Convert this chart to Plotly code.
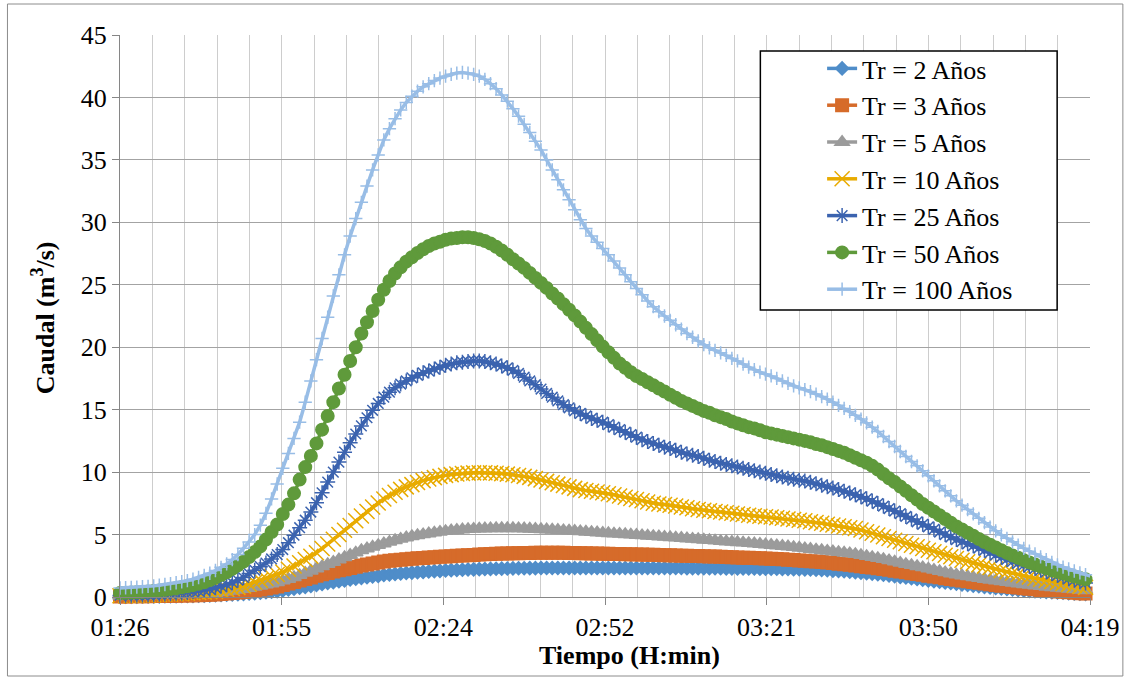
import pandas as pd
import plotly.graph_objects as go

# ---------------- data ----------------
start_time = "2000-01-01 01:26:24"
n_points = 174  # one reading per minute

series_names = ["Tr = 2 Años", "Tr = 3 Años", "Tr = 5 Años", "Tr = 10 Años",
                "Tr = 25 Años", "Tr = 50 Años", "Tr = 100 Años"]

q_tr2 = [0.02,0.02,0.03,0.03,0.04,0.04,0.05,0.05,0.06,0.06,
         0.07,0.08,0.08,0.09,0.10,0.11,0.12,0.14,0.16,0.18,
         0.20,0.22,0.24,0.28,0.31,0.35,0.39,0.43,0.47,0.53,
         0.60,0.67,0.74,0.81,0.88,0.96,1.04,1.12,1.19,1.26,
         1.33,1.41,1.47,1.53,1.59,1.64,1.69,1.76,1.80,1.84,
         1.88,1.92,1.95,1.99,2.01,2.04,2.07,2.09,2.12,2.15,
         2.16,2.18,2.20,2.21,2.23,2.24,2.25,2.26,2.27,2.28,
         2.29,2.30,2.30,2.31,2.31,2.32,2.32,2.32,2.32,2.32,
         2.32,2.32,2.32,2.32,2.32,2.32,2.32,2.32,2.32,2.32,
         2.32,2.32,2.32,2.32,2.32,2.32,2.32,2.32,2.32,2.32,
         2.32,2.31,2.31,2.31,2.30,2.30,2.30,2.30,2.29,2.29,
         2.29,2.28,2.28,2.28,2.27,2.27,2.26,2.26,2.25,2.24,
         2.23,2.22,2.21,2.20,2.18,2.16,2.14,2.11,2.09,2.06,
         2.03,1.99,1.95,1.91,1.87,1.83,1.78,1.73,1.67,1.61,
         1.56,1.50,1.44,1.38,1.32,1.27,1.22,1.17,1.12,1.06,
         1.01,0.96,0.91,0.86,0.81,0.76,0.72,0.68,0.64,0.60,
         0.56,0.52,0.49,0.46,0.44,0.41,0.39,0.36,0.34,0.31,
         0.29,0.26,0.24,0.21]

q_tr3 = [0.05,0.05,0.06,0.06,0.07,0.07,0.08,0.08,0.09,0.10,
         0.11,0.12,0.13,0.14,0.15,0.16,0.18,0.21,0.24,0.28,
         0.32,0.36,0.41,0.47,0.54,0.61,0.69,0.77,0.85,0.97,
         1.09,1.21,1.33,1.45,1.57,1.70,1.82,1.93,2.04,2.14,
         2.23,2.33,2.43,2.52,2.61,2.69,2.77,2.84,2.90,2.95,
         2.99,3.03,3.07,3.10,3.13,3.16,3.19,3.22,3.25,3.27,
         3.30,3.32,3.35,3.37,3.40,3.42,3.44,3.46,3.48,3.49,
         3.50,3.51,3.52,3.53,3.54,3.55,3.55,3.55,3.55,3.54,
         3.53,3.52,3.51,3.50,3.49,3.48,3.47,3.46,3.45,3.44,
         3.43,3.42,3.41,3.40,3.39,3.38,3.37,3.35,3.34,3.32,
         3.31,3.30,3.29,3.28,3.27,3.25,3.24,3.23,3.21,3.19,
         3.17,3.15,3.14,3.12,3.10,3.08,3.06,3.04,3.02,2.99,
         2.96,2.93,2.90,2.87,2.84,2.80,2.76,2.72,2.67,2.63,
         2.58,2.53,2.47,2.41,2.36,2.30,2.25,2.18,2.11,2.04,
         1.98,1.91,1.85,1.78,1.71,1.64,1.58,1.51,1.45,1.38,
         1.32,1.26,1.20,1.14,1.08,1.02,0.97,0.91,0.86,0.81,
         0.76,0.71,0.66,0.62,0.57,0.53,0.49,0.45,0.42,0.38,
         0.35,0.31,0.28,0.25]

q_tr5 = [0.10,0.10,0.11,0.11,0.12,0.13,0.14,0.15,0.16,0.17,
         0.18,0.19,0.21,0.23,0.25,0.27,0.29,0.32,0.37,0.43,
         0.50,0.57,0.64,0.72,0.81,0.90,0.99,1.08,1.17,1.31,
         1.44,1.58,1.75,1.93,2.10,2.28,2.45,2.63,2.80,3.00,
         3.18,3.36,3.55,3.74,3.88,4.02,4.15,4.28,4.41,4.54,
         4.65,4.76,4.86,4.94,5.01,5.08,5.15,5.21,5.27,5.32,
         5.36,5.40,5.43,5.45,5.47,5.48,5.49,5.50,5.50,5.50,
         5.50,5.49,5.48,5.46,5.44,5.42,5.40,5.38,5.36,5.33,
         5.31,5.28,5.25,5.22,5.19,5.16,5.13,5.10,5.07,5.05,
         5.02,4.99,4.96,4.93,4.90,4.87,4.84,4.81,4.78,4.75,
         4.72,4.68,4.65,4.62,4.58,4.55,4.51,4.47,4.44,4.41,
         4.38,4.35,4.31,4.28,4.24,4.20,4.16,4.12,4.08,4.04,
         3.99,3.94,3.89,3.84,3.79,3.74,3.69,3.64,3.59,3.54,
         3.49,3.43,3.35,3.27,3.19,3.11,3.03,2.93,2.83,2.73,
         2.63,2.55,2.46,2.37,2.27,2.17,2.07,1.97,1.88,1.79,
         1.72,1.65,1.58,1.51,1.44,1.38,1.32,1.26,1.20,1.14,
         1.08,1.02,0.97,0.92,0.87,0.82,0.77,0.73,0.69,0.65,
         0.61,0.57,0.53,0.49]

q_tr10 = [0.10,0.11,0.12,0.13,0.14,0.15,0.17,0.19,0.21,0.23,
          0.25,0.27,0.30,0.33,0.36,0.39,0.43,0.47,0.53,0.60,
          0.68,0.77,0.87,1.03,1.18,1.33,1.48,1.64,1.80,2.00,
          2.22,2.48,2.74,3.00,3.27,3.55,3.88,4.25,4.62,5.00,
          5.35,5.72,6.10,6.48,6.85,7.20,7.52,7.85,8.12,8.38,
          8.62,8.82,9.00,9.17,9.32,9.45,9.56,9.66,9.74,9.80,
          9.85,9.89,9.92,9.94,9.95,9.95,9.94,9.91,9.88,9.84,
          9.79,9.73,9.66,9.58,9.48,9.37,9.26,9.15,9.04,8.93,
          8.82,8.70,8.60,8.52,8.46,8.40,8.34,8.27,8.18,8.08,
          7.98,7.89,7.80,7.70,7.60,7.51,7.45,7.40,7.35,7.28,
          7.21,7.14,7.07,7.00,6.95,6.90,6.85,6.80,6.75,6.70,
          6.65,6.60,6.55,6.50,6.47,6.43,6.40,6.35,6.30,6.25,
          6.20,6.15,6.10,6.03,5.97,5.90,5.83,5.76,5.69,5.62,
          5.55,5.48,5.36,5.23,5.10,4.97,4.83,4.69,4.55,4.42,
          4.28,4.15,4.02,3.88,3.75,3.62,3.48,3.35,3.22,3.08,
          2.95,2.82,2.69,2.58,2.47,2.36,2.24,2.12,2.00,1.90,
          1.80,1.70,1.60,1.50,1.42,1.33,1.25,1.17,1.09,1.01,
          0.93,0.85,0.77,0.69]

q_tr25 = [0.13,0.14,0.15,0.16,0.17,0.19,0.21,0.23,0.25,0.27,
          0.30,0.33,0.37,0.42,0.48,0.55,0.63,0.74,0.86,0.99,
          1.15,1.35,1.56,1.88,2.15,2.43,2.72,3.05,3.40,3.80,
          4.35,4.95,5.55,6.15,6.80,7.55,8.35,9.20,10.0,10.8,
          11.6,12.35,13.05,13.7,14.35,14.95,15.5,16.0,16.4,16.75,
          17.05,17.3,17.55,17.75,17.95,18.1,18.25,18.4,18.55,18.65,
          18.75,18.8,18.85,18.9,18.9,18.85,18.75,18.65,18.5,18.35,
          18.15,17.9,17.6,17.3,17.0,16.65,16.3,16.0,15.7,15.4,
          15.15,14.9,14.7,14.5,14.3,14.15,14.0,13.8,13.6,13.4,
          13.2,13.0,12.8,12.6,12.45,12.3,12.15,12.0,11.9,11.75,
          11.6,11.45,11.35,11.25,11.1,10.95,10.85,10.7,10.6,10.5,
          10.4,10.3,10.2,10.1,10.0,9.9,9.8,9.7,9.6,9.5,
          9.42,9.35,9.28,9.18,9.06,8.95,8.83,8.72,8.6,8.47,
          8.33,8.18,8.02,7.86,7.68,7.48,7.28,7.08,6.88,6.68,
          6.45,6.25,6.02,5.82,5.62,5.42,5.2,5.0,4.8,4.6,
          4.43,4.26,4.1,3.92,3.74,3.55,3.37,3.18,3.0,2.85,
          2.7,2.55,2.42,2.28,2.14,2.0,1.86,1.73,1.6,1.47,
          1.35,1.23,1.12,1.0]

q_tr50 = [0.32,0.34,0.36,0.38,0.41,0.45,0.49,0.53,0.58,0.64,
          0.70,0.78,0.86,0.95,1.06,1.18,1.36,1.55,1.76,1.98,
          2.25,2.53,2.83,3.20,3.60,4.05,4.60,5.20,5.80,6.65,
          7.4,8.3,9.4,10.4,11.3,12.3,13.4,14.5,15.6,16.7,
          17.8,18.9,20.0,21.1,22.0,22.9,23.8,24.6,25.3,25.9,
          26.4,26.85,27.2,27.55,27.85,28.1,28.3,28.45,28.6,28.7,
          28.75,28.8,28.8,28.75,28.65,28.5,28.3,28.05,27.75,27.4,
          27.05,26.7,26.35,25.95,25.55,25.15,24.75,24.3,23.9,23.45,
          23.0,22.55,22.05,21.55,21.05,20.55,20.05,19.6,19.15,18.7,
          18.35,18.0,17.7,17.45,17.2,16.95,16.7,16.45,16.2,15.95,
          15.7,15.5,15.3,15.1,14.9,14.75,14.55,14.4,14.25,14.05,
          13.9,13.75,13.6,13.5,13.35,13.2,13.1,13.0,12.9,12.8,
          12.7,12.6,12.5,12.4,12.25,12.15,12.0,11.85,11.7,11.55,
          11.35,11.15,10.95,10.75,10.5,10.2,9.85,9.5,9.2,8.85,
          8.5,8.15,7.8,7.45,7.15,6.85,6.55,6.25,5.95,5.65,
          5.4,5.15,4.9,4.65,4.4,4.18,3.96,3.74,3.53,3.33,
          3.14,2.95,2.77,2.6,2.44,2.29,2.15,2.02,1.89,1.77,
          1.65,1.53,1.42,1.31]

q_tr100 = [0.72,0.74,0.76,0.79,0.82,0.85,0.89,0.94,1.00,1.07,
           1.14,1.22,1.31,1.42,1.56,1.72,1.90,2.12,2.38,2.65,
           3.00,3.40,3.90,4.40,5.00,5.75,6.70,7.85,9.05,10.3,
           11.5,12.7,14.0,15.6,17.3,19.0,20.7,22.4,24.1,25.8,
           27.4,28.9,30.3,31.6,32.9,34.2,35.4,36.6,37.5,38.3,
           39.0,39.6,40.1,40.5,40.85,41.1,41.35,41.55,41.7,41.85,
           41.95,42.0,41.95,41.85,41.7,41.45,41.1,40.7,40.2,39.7,
           39.1,38.5,37.85,37.2,36.5,35.8,35.0,34.2,33.4,32.6,
           31.8,31.0,30.2,29.5,28.9,28.4,27.9,27.4,26.9,26.35,
           25.8,25.25,24.7,24.2,23.7,23.25,22.85,22.5,22.15,21.8,
           21.45,21.1,20.8,20.5,20.2,19.95,19.75,19.55,19.35,19.1,
           18.9,18.65,18.4,18.2,18.0,17.85,17.7,17.5,17.3,17.1,
           16.9,16.75,16.6,16.45,16.25,16.05,15.85,15.6,15.35,15.1,
           14.85,14.55,14.25,13.95,13.6,13.25,12.85,12.45,12.05,11.65,
           11.25,10.85,10.5,10.1,9.7,9.3,8.9,8.5,8.1,7.7,
           7.35,7.0,6.65,6.3,5.95,5.6,5.3,4.97,4.7,4.42,
           4.15,3.9,3.67,3.45,3.22,3.0,2.78,2.58,2.4,2.24,
           2.08,1.93,1.79,1.65]

y_tick_values = [0, 5, 10, 15, 20, 25, 30, 35, 40, 45]

# ---------------- styles ----------------
colors = ["#4F8DC9", "#D66B2A", "#9B9B9B", "#E8AB00", "#3B63AF", "#5F9A3B", "#98BDE6"]
symbols = ["diamond", "square", "triangle-up", "x-thin-open", "asterisk-open",
           "circle", "cross-thin-open"]
sizes = [10, 12.5, 12.5, 15, 12.5, 12.5, 9.5]

times = pd.date_range(start=start_time, periods=n_points, freq="1min")
all_series = [q_tr2, q_tr3, q_tr5, q_tr10, q_tr25, q_tr50, q_tr100]

FONT = "Liberation Serif, Times New Roman, serif"

fig = go.Figure()
for name, vals, col, sym, sz in zip(series_names, all_series, colors, symbols, sizes):
    fig.add_trace(go.Scatter(
        x=times, y=vals, name=name, mode="lines+markers",
        legendgroup=name,
        line=dict(color=col, width=3.5),
        marker=dict(symbol=sym, size=sz, color=col,
                    line=dict(color=col, width=1.5)),
        cliponaxis=False,
    ))

L, R, T, B = 120, 38, 35, 83
W, H = 1132, 680
PW, PH = W - L - R, H - T - B


def px(x):
    return (x - L) / PW


def py(y):
    return 1 - (y - T) / PH


fig.update_layout(
    width=W, height=H,
    margin=dict(l=L, r=R, t=T, b=B, pad=0),
    paper_bgcolor="white", plot_bgcolor="white",
    font=dict(family=FONT, color="black", size=26),
    showlegend=True,
    legend=dict(
        x=px(825), y=py(45), xanchor="left", yanchor="top",
        bgcolor="rgba(0,0,0,0)", borderwidth=0,
        font=dict(family=FONT, size=26, color="black"),
        traceorder="grouped", tracegroupgap=0,
    ),
    xaxis=dict(
        type="date",
        range=["2000-01-01 01:26:24", "2000-01-01 04:19:12"],
        tick0="2000-01-01 01:26:24", dtick=1728000, tickformat="%H:%M",
        showgrid=True, gridcolor="#CDCDCD", gridwidth=1,
        minor=dict(dtick=345600, tick0="2000-01-01 01:26:24", showgrid=True,
                   gridcolor="#CDCDCD", gridwidth=1, ticks=""),
        showline=True, linecolor="#868686", linewidth=1,
        ticks="outside", ticklen=7, tickcolor="#868686",
        tickfont=dict(family=FONT, size=26, color="black"),
        zeroline=False,
    ),
    yaxis=dict(
        range=[0, 45], tickvals=y_tick_values,
        showgrid=True, gridcolor="#A3A3A3", gridwidth=1,
        showline=True, linecolor="#868686", linewidth=1,
        ticks="outside", ticklen=7, tickcolor="#868686",
        tickfont=dict(family=FONT, size=26, color="black"),
        zeroline=False,
    ),
    shapes=[
        dict(type="rect", xref="paper", yref="paper", layer="above",
             x0=px(763), x1=px(1061), y0=py(310), y1=py(51),
             fillcolor="white", line=dict(color="black", width=1.5)),
        dict(type="rect", xref="paper", yref="paper", layer="below",
             x0=px(7), x1=px(1127), y0=py(676), y1=py(4),
             fillcolor="rgba(0,0,0,0)", line=dict(color="#8C8C8C", width=1)),
    ],
    annotations=[
        dict(text="<b>Tiempo (H:min)</b>", xref="paper", yref="paper",
             x=px(632), y=py(655), xanchor="center", yanchor="middle",
             showarrow=False, font=dict(family=FONT, size=26, color="black")),
        dict(text="<b>Caudal (m<sup>3</sup>/s)</b>", xref="paper", yref="paper",
             x=px(43), y=py(318), xanchor="center", yanchor="middle",
             textangle=-90, showarrow=False,
             font=dict(family=FONT, size=26, color="black")),
    ],
)

fig.write_html("out.html")
